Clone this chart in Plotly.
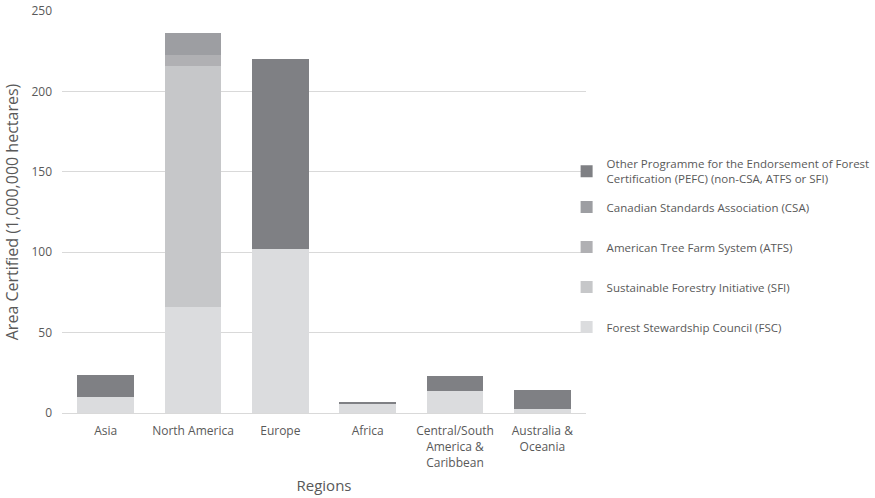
import plotly.graph_objects as go

regions = ["Asia", "North America", "Europe", "Africa",
           "Central/South<br>America &<br>Caribbean", "Australia &<br>Oceania"]
fsc = [9.8, 66.1, 101.8, 6.0, 13.5, 2.5]
sfi = [0, 149.7, 0, 0, 0, 0]
atfs = [0, 6.8, 0, 0, 0, 0]
csa = [0, 13.5, 0, 0, 0, 0]
pefc = [13.8, 0, 118.3, 0.8, 9.3, 11.6]

series = [
    ("Forest Stewardship Council (FSC)", fsc, "#dbdcde", "legend2"),
    ("Sustainable Forestry Initiative (SFI)", sfi, "#c6c7c9", "legend2"),
    ("American Tree Farm System (ATFS)", atfs, "#b0b0b3", "legend2"),
    ("Canadian Standards Association (CSA)", csa, "#9d9ea2", "legend2"),
    ("Other Programme for the Endorsement of Forest<br>Certification (PEFC) (non-CSA, ATFS or SFI)", pefc, "#7f8084", "legend"),
]

fig = go.Figure()
n = len(series)
for i, (name, vals, col, leg) in enumerate(series):
    fig.add_trace(go.Bar(
        x=regions, y=vals, name=name, legendgroup=str(i), legendrank=n - i,
        legend=leg, showlegend=True,
        marker=dict(color=col, line=dict(width=0)),
    ))

font = "Open Sans, sans-serif"
legfont = dict(size=11.5, color="#595959")
fig.update_layout(
    barmode="stack", bargap=0.35, showlegend=True,
    width=875, height=498,
    margin=dict(l=62, r=289, t=11, b=85, autoexpand=False),
    plot_bgcolor="white", paper_bgcolor="white",
    font=dict(family=font, size=12, color="#595959"),
    legend=dict(x=0.963, y=0.655, xanchor="left", yanchor="top", visible=True,
                font=legfont, itemwidth=30, bgcolor="rgba(0,0,0,0)"),
    legend2=dict(x=0.963, y=0.5485, xanchor="left", yanchor="top", visible=True,
                 traceorder="grouped", tracegroupgap=21,
                 font=legfont, itemwidth=30, bgcolor="rgba(0,0,0,0)"),
    xaxis=dict(title=dict(text="Regions", font=dict(size=15, color="#595959"), standoff=10),
               automargin=False, ticklabelstandoff=7,
               showline=True, linecolor="#d9d9d9", linewidth=1,
               tickfont=dict(size=12, color="#595959"), ticks=""),
    yaxis=dict(title=dict(text="Area Certified (1,000,000 hectares)", font=dict(size=16, color="#595959"), standoff=8),
               automargin=False, ticklabelstandoff=9,
               range=[0, 250], dtick=50, showgrid=True, gridcolor="#d9d9d9", gridwidth=1,
               zeroline=False, tickfont=dict(size=12, color="#595959"), ticks=""),
)

fig.write_html("out.html", config={"displayModeBar": False},
               post_script="document.body.style.margin='0';")
